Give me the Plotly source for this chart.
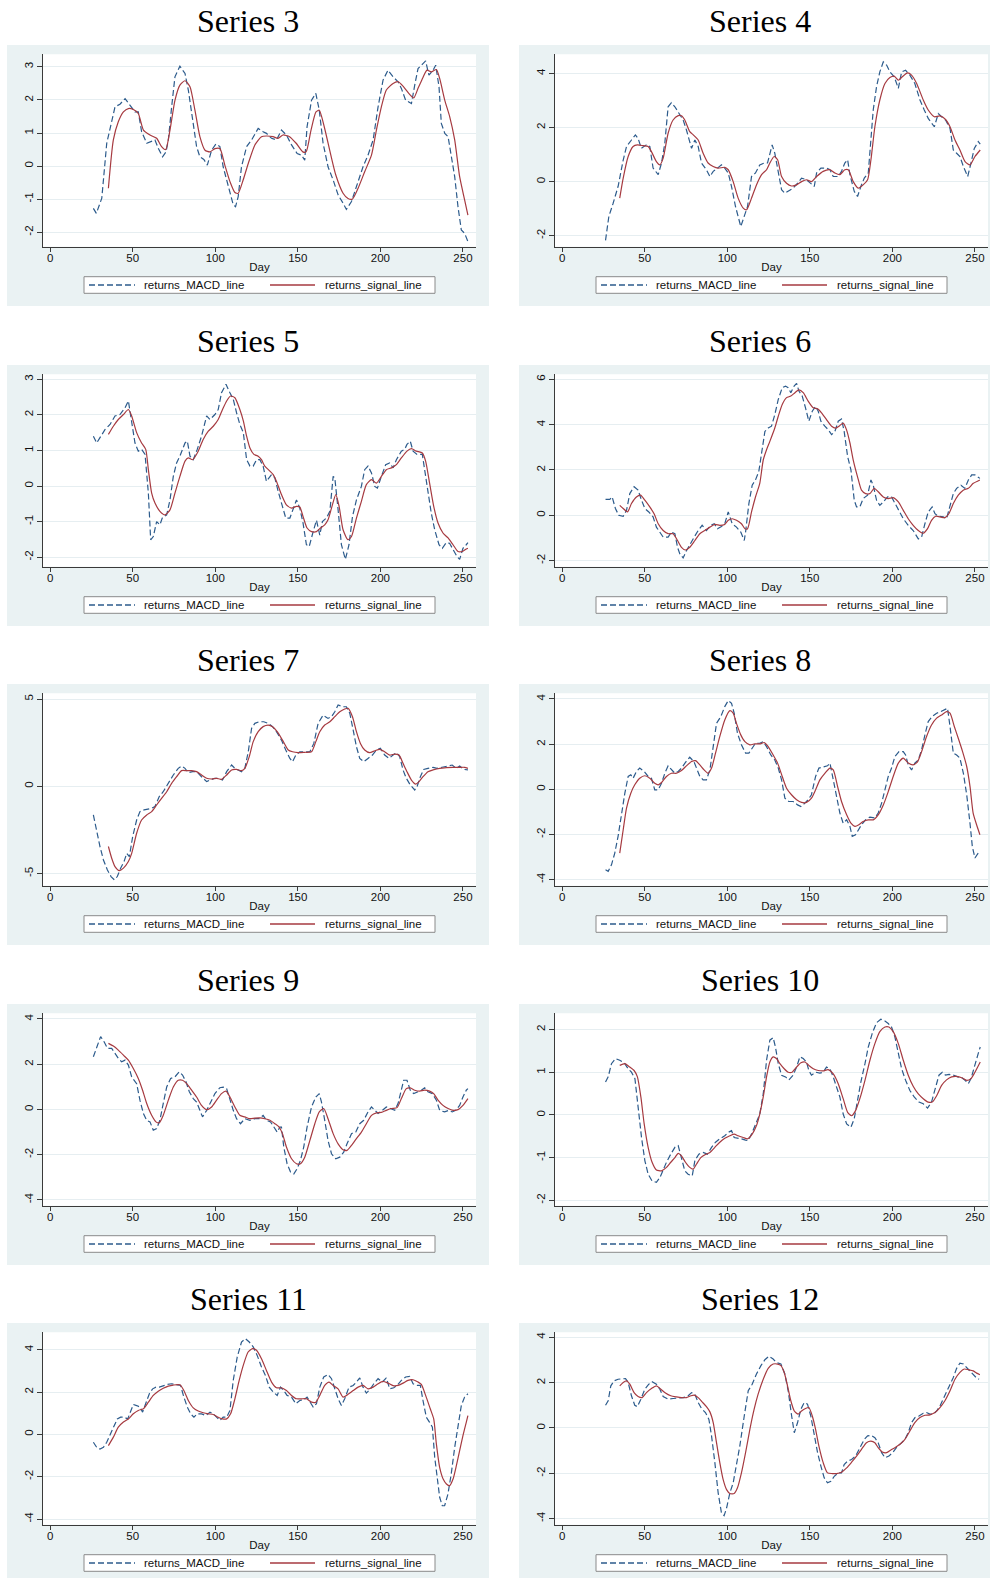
import plotly.graph_objects as go

# ---------------- data (day, value) ----------------
TITLES = ["Series 3", "Series 4", "Series 5", "Series 6", "Series 7",
          "Series 8", "Series 9", "Series 10", "Series 11", "Series 12"]
X_TICKS = [0, 50, 100, 150, 200, 250]
Y_TICKS = [[-2, -1, 0, 1, 2, 3], [-2, 0, 2, 4], [-2, -1, 0, 1, 2, 3], [-2, 0, 2, 4, 6],
           [-5, 0, 5], [-4, -2, 0, 2, 4], [-4, -2, 0, 2, 4], [-2, -1, 0, 1, 2],
           [-4, -2, 0, 2, 4], [-4, -2, 0, 2, 4]]
Y_RANGES = [[-2.44, 3.38], [-2.41, 4.71], [-2.27, 3.14], [-2.27, 6.22], [-5.70, 5.33],
            [-4.27, 4.25], [-4.26, 4.25], [-2.13, 2.38], [-4.27, 4.82], [-4.27, 4.22]]

S3_MACD = [(26.2,-1.28),(28,-1.43),(31.3,-0.97),(34.3,0.69),(39.3,1.79),(42.3,1.87),(45.4,2.04),(48.4,1.84),
 (51.4,1.64),(53.4,1.64),(55.4,1.04),(58.5,0.69),(61.5,0.74),(63.5,0.79),(65.5,0.54),(68.1,0.28),(70.2,0.43),
 (71.6,0.79),(73.6,1.79),(75.6,2.70),(78.6,3.02),(81.7,2.80),(83.7,2.30),(85.7,1.59),(88.7,0.59),(90.7,0.28),
 (93.1,0.20),(95.2,0.03),(97.8,0.48),(100.4,0.67),(102.8,0.59),(104.8,-0.02),(107.9,-0.62),(110.9,-1.17),
 (112.3,-1.23),(113.9,-0.92),(115.9,-0.02),(119,0.59),(122,0.79),(126,1.14),(129,1.04),(131,0.99),(134.1,0.84),
 (137.1,0.79),(140.1,1.09),(143.1,0.94),(146.2,0.64),(149.6,0.38),(152.2,0.33),(154.2,0.18),(155.6,1.19),
 (158.3,1.99),(160.9,2.20),(163,1.69),(165.3,0.69),(168.3,-0.02),(171.4,-0.42),(174.4,-0.87),(177.4,-1.12),
 (179.4,-1.31),(182.5,-1.07),(186.5,-0.47),(189.5,-0.02),(192.5,0.33),(195.6,0.79),(198.6,1.79),(201.6,2.60),
 (204.6,2.90),(207.7,2.70),(210.7,2.55),(212.7,2.35),(215.3,1.99),(218.8,1.89),(220.8,2.45),(222.8,2.95),
 (225.8,3.10),(227.4,3.18),(229.4,2.75),(231.9,2.90),(233.5,3.05),(235.5,2.40),(236.9,1.29),(239,0.99),
 (241,0.89),(243,0.28),(245,-0.32),(247,-1.23),(249,-1.93),(251,-2.03),(253,-2.28)]
S3_SIGNAL = [(35.3,-0.67),(38.3,0.79),(41.3,1.34),(44.4,1.64),(47.4,1.74),(50.4,1.71),(53.4,1.59),(56.5,1.09),
 (60.5,0.94),(64.5,0.84),(67.5,0.59),(70,0.50),(72.6,1.09),(75.6,1.99),(78.6,2.45),(81.7,2.58),(84.7,2.40),
 (87.7,1.69),(90.7,0.89),(93.8,0.48),(96.8,0.43),(99.8,0.53),(102.8,0.53),(105.8,0.03),(108.9,-0.47),
 (111.9,-0.80),(113.9,-0.82),(116.9,-0.42),(120,0.08),(124,0.64),(128,0.89),(131,0.91),(135,0.89),(138,0.84),
 (141,0.94),(145,0.89),(149,0.69),(153,0.43),(155,0.43),(158,1.09),(161,1.64),(163,1.69),(166,1.19),(170,0.33),
 (173,-0.27),(177.4,-0.82),(180.4,-0.98),(183,-1.00),(186.5,-0.67),(190.5,-0.17),(194.6,0.33),(197.6,1.09),
 (200.6,1.79),(203.6,2.30),(207.7,2.50),(210.7,2.55),(213.7,2.42),(217.7,2.17),(220.2,2.06),(222.8,2.35),
 (225.8,2.68),(228.2,2.90),(230.8,2.85),(233.9,2.92),(235.9,2.65),(239,1.99),(242,1.49),(245,0.79),
 (248,-0.32),(251,-1.02),(253,-1.48)]

S4_MACD = [(26.3,-2.17),(28.3,-1.29),(30.9,-0.80),(33.9,-0.18),(37,0.80),(39,1.30),(42,1.54),(44.4,1.73),
 (46,1.60),(48,1.23),(51,1.36),(53.1,1.30),(55.1,0.50),(58.2,0.26),(60.2,0.69),(62.2,1.42),(64.2,2.77),
 (66.2,2.92),(68.3,2.77),(71.3,2.46),(73.3,2.28),(75.3,1.91),(78.4,1.23),(80.4,1.54),(82.4,1.30),(84.4,0.69),
 (87.4,0.44),(89.5,0.19),(91.5,0.38),(94.1,0.50),(96.5,0.62),(98.5,0.50),(100.6,0.32),(102.6,-0.18),
 (105,-0.92),(108.2,-1.66),(110.3,-1.29),(112.3,-0.92),(114.7,0.19),(117.1,0.32),(119.7,0.62),(122.4,0.69),
 (124.4,0.69),(125.8,1.05),(127.2,1.36),(128.8,1.05),(130.9,0.32),(132.9,-0.30),(134.9,-0.43),(137.3,-0.33),
 (139.9,-0.24),(142.6,-0.06),(145,0.13),(148,0.07),(150.6,-0.06),(152.7,-0.18),(154.1,0.32),(156.7,0.50),
 (160.1,0.50),(162.2,0.44),(164.2,0.19),(167.2,0.19),(169.2,0.38),(171.2,0.69),(172.9,0.81),(174.3,0.26),
 (176.9,-0.36),(178.9,-0.55),(180.9,-0.18),(183,0.13),(185.4,0.32),(187,1.42),(188.4,2.65),(190.4,3.51),
 (192.4,4.06),(194.5,4.43),(196.5,4.31),(198.5,4.06),(201.1,3.88),(203.6,3.45),(205.6,4.06),(208,4.12),
 (210.6,3.94),(213.6,3.63),(216.7,3.02),(219.3,2.65),(221.7,2.34),(225.4,2.03),(227.8,2.52),(229.8,2.40),
 (232.2,2.28),(234.9,1.97),(236.9,1.17),(238.9,1.05),(240.9,0.93),(243,0.56),(245.6,0.19),(247.6,0.69),
 (249.6,1.23),(252,1.48),(253.2,1.39)]
S4_SIGNAL = [(34.9,-0.61),(37,0.13),(40,0.93),(43,1.30),(45.6,1.36),(49.1,1.33),(52.1,1.30),(54.1,1.11),
 (57.1,0.74),(59.2,0.62),(61.2,0.87),(64.2,1.79),(67.2,2.28),(70.3,2.44),(72.3,2.44),(74.3,2.28),(77.3,1.85),
 (79.4,1.73),(82.4,1.54),(85.4,1.05),(88.4,0.69),(91.5,0.56),(94.5,0.50),(98.5,0.53),(100.6,0.44),(103.6,0.00),
 (106.6,-0.61),(109.7,-0.98),(111.7,-1.04),(114.7,-0.61),(117.7,-0.12),(120.8,0.26),(123.8,0.44),(125.8,0.69),
 (128.4,0.93),(130.5,0.81),(132.9,0.19),(135.9,-0.06),(138.9,-0.16),(142,-0.12),(145,0.00),(148,0.07),
 (151,0.00),(154.1,0.19),(158.1,0.38),(162.2,0.44),(165.2,0.32),(168.2,0.26),(171.2,0.44),(173.3,0.44),
 (176.3,0.00),(179.3,-0.24),(182.3,-0.12),(185,0.07),(187,0.80),(189.4,2.03),(192.4,3.02),(195.5,3.63),
 (198.5,3.85),(201.1,3.90),(203.6,3.75),(206,3.88),(209.2,4.02),(211.6,3.94),(214.7,3.63),(218.7,3.02),
 (221.7,2.65),(225.4,2.40),(228.8,2.43),(232.2,2.30),(234.9,2.03),(237.9,1.54),(240.9,1.17),(244,0.74),
 (247,0.62),(250,0.93),(253.2,1.17)]

S5_MACD = [(26.2,1.40),(28.2,1.21),(30.2,1.36),(33.3,1.59),(36.3,1.73),(39.3,1.97),(42.3,2.01),(45.4,2.20),
 (47.4,2.39),(49.4,1.78),(51.4,1.21),(53.4,0.98),(55.4,1.03),(57.5,0.89),(59.5,-0.20),(60.9,-1.51),(62.5,-1.42),
 (64.5,-1.00),(66.5,-1.09),(67.9,-0.90),(70.6,-0.81),(72.6,-0.39),(74.6,0.27),(76.6,0.65),(78.6,0.84),
 (81.7,1.21),(83.1,1.26),(84.7,0.84),(86.7,0.74),(89.1,1.03),(91.7,1.40),(94.8,1.97),(96.8,1.87),(99.8,2.01),
 (101.8,2.15),(103.8,2.62),(106.5,2.86),(108.9,2.62),(110.9,2.44),(112.9,2.06),(114.9,1.73),(117,1.50),
 (119,0.74),(121,0.56),(123,0.56),(125,0.74),(127,0.74),(129,0.56),(131,0.13),(134.1,0.32),(136.1,0.23),
 (138.1,-0.15),(140.1,-0.48),(142.7,-0.90),(145.2,-0.90),(147.2,-0.67),(149.2,-0.39),(151.2,-0.62),
 (153.2,-1.05),(155.2,-1.65),(156.9,-1.70),(159.3,-1.28),(161.3,-0.96),(163.3,-1.38),(164.9,-1.00),
 (167.3,-0.90),(169.4,-0.71),(171.4,0.27),(172.4,0.23),(174.4,-0.67),(176.4,-1.65),(178.8,-2.06),
 (181,-1.65),(183.1,-0.86),(185.5,-0.39),(188.5,-0.01),(190.5,0.46),(192.5,0.56),(194.6,0.37),(196.6,-0.01),
 (198.2,-0.06),(200.6,0.27),(203.2,0.60),(205.6,0.65),(207.7,0.51),(209.7,0.74),(212.7,0.98),(214.7,1.03),
 (216.1,1.17),(218.1,1.26),(219.8,0.98),(222.2,0.89),(225.4,0.89),(226.8,0.46),(228.8,-0.20),(230.8,-0.76),
 (232.9,-1.23),(235.5,-1.65),(237.5,-1.75),(239.9,-1.59),(241.9,-1.61),(244,-1.79),(246.4,-1.98),
 (248,-2.06),(250,-1.75),(252,-1.65),(253,-1.59)]
S5_SIGNAL = [(35.3,1.45),(38.3,1.68),(41.3,1.87),(44.4,2.01),(47.4,2.15),(49.4,1.97),(52.4,1.50),(55.4,1.21),
 (57.9,1.03),(59.5,0.46),(61.5,-0.20),(63.5,-0.48),(66.5,-0.71),(69.6,-0.81),(72.6,-0.67),(75.6,-0.20),
 (78.6,0.27),(81.7,0.70),(83.7,0.79),(86.3,0.74),(89.7,0.98),(92.7,1.31),(95.8,1.54),(98.8,1.68),(101.8,1.87),
 (104.4,2.15),(106.9,2.39),(109.3,2.53),(111.9,2.48),(114.9,2.15),(117,1.83),(119,1.40),(121,1.07),(123.4,0.89),
 (126,0.84),(128,0.74),(130,0.56),(133.1,0.42),(135.1,0.32),(137.1,0.13),(140.1,-0.24),(143.1,-0.53),
 (146.2,-0.62),(149.2,-0.57),(151.2,-0.59),(153.2,-0.86),(155.6,-1.18),(158.3,-1.28),(161.3,-1.28),
 (163.7,-1.18),(166.3,-1.09),(168.3,-0.95),(170.4,-0.62),(173,-0.24),(175,-0.57),(177.4,-1.23),(180.4,-1.51),
 (182.5,-1.42),(185.5,-0.90),(188.5,-0.43),(191.5,0.04),(194.6,0.18),(197.6,0.08),(200.6,0.27),(203.6,0.46),
 (206.7,0.51),(209.7,0.60),(212.7,0.79),(216.1,0.98),(218.8,1.05),(221.8,0.98),(225.4,0.93),(227.4,0.70),
 (229.8,0.08),(232.3,-0.57),(234.9,-1.04),(237.9,-1.32),(241,-1.46),(244,-1.65),(247,-1.84),(249.6,-1.84),
 (252,-1.77),(253,-1.75)]

S6_MACD = [(26.3,0.70),(28.9,0.70),(30.3,0.81),(32.3,0.30),(34.3,0.00),(37,-0.04),(39,0.22),(41,0.96),
 (43.6,1.26),(46,1.11),(48.1,0.67),(50.1,0.30),(52.5,0.15),(55.1,-0.07),(57.1,-0.52),(59.2,-0.74),(61.2,-0.96),
 (64.2,-0.96),(66.2,-0.74),(68.3,-0.81),(69.9,-1.41),(71.3,-1.70),(73.3,-1.88),(75.3,-1.56),(77.3,-1.33),
 (80,-0.96),(82.4,-0.67),(84.8,-0.44),(87.4,-0.67),(90.1,-0.44),(92.1,-0.37),(94.1,-0.59),(96.5,-0.49),
 (98.5,-0.37),(100.6,0.15),(103,-0.37),(105.6,-0.52),(108.2,-0.74),(110.3,-1.11),(111.1,-0.74),(113.1,0.52),
 (115.1,1.33),(117.1,1.56),(119.1,1.93),(120.8,2.74),(122.8,3.70),(124.8,3.85),(126.8,3.93),(128.8,4.44),
 (130.9,5.11),(133.3,5.63),(135.3,5.70),(136.9,5.63),(138.5,5.41),(140.5,5.70),(142,5.82),(143.4,5.48),
 (145.4,5.26),(147.4,4.74),(149.4,4.15),(151.5,4.59),(153.5,4.81),(155.1,4.59),(156.7,4.15),(159.1,3.93),
 (161.1,3.78),(163.2,3.56),(165.2,3.70),(167.2,4.15),(169.2,4.25),(170.8,3.70),(172.9,2.59),(174.9,2.00),
 (176.9,0.67),(178.3,0.37),(180.3,0.37),(182.3,0.74),(185,0.89),(187,1.56),(188.4,1.33),(190.4,0.67),
 (192.4,0.44),(194.5,0.59),(197.1,0.81),(199.5,0.81),(201.5,0.52),(204,0.22),(206.6,-0.15),(209.6,-0.44),
 (212.6,-0.67),(215.7,-1.04),(217.7,-0.96),(219.7,-0.37),(221.7,0.15),(224.1,0.37),(225.8,0.07),
 (227.8,-0.04),(230.8,-0.07),(232.8,-0.15),(234.9,0.37),(236.9,0.96),(238.9,1.19),(241.5,1.33),(243.9,1.19),
 (246,1.56),(248,1.78),(250,1.78),(253,1.63)]
S6_SIGNAL = [(34.9,0.44),(37,0.30),(39.6,0.15),(42,0.52),(45,0.81),(47.5,0.89),(50.1,0.67),(53.1,0.37),
 (55.7,0.07),(58.2,-0.37),(61.2,-0.67),(64.2,-0.81),(67.2,-0.81),(69.9,-1.11),(72.3,-1.41),(74.7,-1.53),
 (77.3,-1.41),(80.4,-1.11),(83.4,-0.81),(86.4,-0.67),(89.5,-0.52),(92.5,-0.40),(95.5,-0.44),(98.5,-0.40),
 (100.6,-0.22),(103,-0.15),(105.6,-0.22),(108.6,-0.37),(110.7,-0.59),(112.3,-0.59),(114.7,0.15),(117.1,0.81),
 (119.7,1.41),(121.8,2.44),(123.8,2.89),(125.8,3.26),(128.8,3.85),(130.9,4.37),(133.3,4.89),(135.9,5.19),
 (138.5,5.26),(141,5.41),(143.4,5.53),(146,5.41),(149,5.04),(152.1,4.74),(154.7,4.70),(157.1,4.52),
 (160.1,4.22),(163.2,3.93),(165.6,3.85),(168.2,3.96),(170.2,4.07),(172.2,3.78),(174.3,3.19),(176.3,2.44),
 (178.9,1.70),(181.3,1.11),(183.8,0.96),(186.4,0.96),(189,1.19),(191.4,1.04),(194.5,0.81),(197.5,0.74),
 (200.5,0.78),(203.6,0.59),(206.6,0.22),(209.6,-0.15),(212.6,-0.44),(215.7,-0.67),(218.7,-0.79),(221.3,-0.59),
 (223.7,-0.22),(226.2,-0.04),(228.8,-0.07),(231.8,-0.10),(234.2,0.07),(236.9,0.52),(239.9,0.89),(242.9,1.11),
 (246,1.19),(249,1.41),(253,1.56)]

S7_MACD = [(26.2,-1.64),(28.2,-2.60),(30.2,-3.45),(32.3,-4.22),(34.7,-4.79),(36.9,-5.17),(38.9,-5.36),
 (40.7,-5.17),(42.7,-4.69),(44.8,-4.31),(46.4,-3.84),(48,-4.03),(50,-2.88),(52.4,-1.93),(54.4,-1.45),
 (56.9,-1.35),(59.5,-1.32),(61.5,-1.26),(63.5,-1.16),(66.1,-0.59),(68.5,-0.31),(71.6,0.17),(74.6,0.65),
 (77.6,1.03),(79.6,1.16),(81.7,1.03),(83.7,0.78),(86.3,0.84),(88.7,0.84),(91.7,0.55),(94.8,0.27),(96.8,0.36),
 (99.8,0.46),(101.8,0.46),(104.4,0.36),(106.9,0.84),(109.9,1.22),(111.9,1.03),(113.9,0.94),(115.9,0.84),
 (117.9,1.03),(120,1.98),(122,3.32),(124,3.61),(126.6,3.70),(129.4,3.70),(132.1,3.61),(134.7,3.42),
 (137.1,3.13),(140.1,2.65),(142.7,2.08),(145.2,1.60),(146.8,1.41),(148.8,1.79),(151.2,1.98),(154.2,1.98),
 (157.3,1.98),(159.7,2.46),(162.3,3.61),(165.3,4.08),(168.3,3.89),(170.4,3.99),(172.4,4.27),(174.4,4.66),
 (177.4,4.56),(179.4,4.56),(181.5,4.18),(183.5,3.23),(185.5,2.27),(187.5,1.60),(189.9,1.41),(192.5,1.60),
 (195.2,1.79),(197.6,2.08),(200,2.18),(202.6,1.79),(205.2,1.60),(207.7,1.79),(209.7,1.93),(211.7,1.70),
 (213.7,0.94),(215.7,0.46),(218.1,0.08),(220.8,-0.21),(222.2,-0.02),(224.2,0.55),(226.2,0.97),(228.8,1.03),
 (231.9,1.09),(234.3,1.03),(237.5,1.09),(240.9,1.16),(243.5,1.22),(246,1.03),(248,1.16),(250.4,0.97),
 (253,0.94)]
S7_SIGNAL = [(35.3,-3.45),(37.3,-4.12),(39.3,-4.60),(41.9,-4.83),(44.4,-4.69),(47.4,-4.31),(49.4,-3.84),
 (52.4,-2.69),(55.4,-1.93),(58.5,-1.64),(61.5,-1.45),(64.5,-1.07),(67.5,-0.69),(70.6,-0.31),(73.6,0.17),
 (76.6,0.55),(79.6,0.90),(82.7,0.90),(85.7,0.90),(88.7,0.84),(91.7,0.65),(94.8,0.46),(97.8,0.42),(100.8,0.46),
 (103.8,0.40),(106.9,0.65),(109.9,0.94),(112.9,0.97),(115.9,0.90),(117.9,1.03),(120.6,1.70),(123,2.56),
 (126,3.13),(129,3.42),(132.1,3.51),(134.7,3.42),(137.5,3.13),(140.7,2.65),(144.2,2.08),(146.8,1.98),
 (150.2,1.93),(154.2,1.95),(158.3,1.98),(160.9,2.56),(163.3,3.13),(166.3,3.51),(169.4,3.70),(172.4,3.99),
 (175.4,4.27),(178.4,4.43),(180.4,4.47),(183.1,3.99),(185.5,3.13),(187.9,2.46),(190.5,2.08),(193.5,1.93),
 (196.6,2.04),(199.6,2.12),(202.6,1.98),(205.6,1.79),(208.7,1.85),(211.3,1.79),(213.7,1.32),(216.1,0.84),
 (218.8,0.36),(221.4,0.13),(223.4,0.27),(225.8,0.55),(228.8,0.84),(231.9,0.94),(235.9,1.03),(240,1.07),
 (244,1.09),(248,1.09),(251,1.09),(253,1.03)]

S8_MACD = [(26.3,-3.56),(27.9,-3.63),(29.9,-3.34),(31.9,-2.82),(33.9,-2.08),(35.9,-1.05),(38,-0.17),
 (40,0.57),(41.6,0.64),(43,0.49),(45,0.79),(47,0.94),(49.7,0.79),(52.1,0.57),(54.1,0.49),(56.1,-0.02),
 (58.2,-0.02),(60.2,0.27),(62.2,0.71),(64.2,1.04),(66.2,0.86),(68.3,0.71),(70.3,0.79),(72.3,0.94),(74.7,1.19),
 (77.3,1.42),(79.8,1.23),(81.4,0.94),(83.4,0.57),(85.4,0.42),(87.4,0.42),(89.5,0.86),(91.5,1.89),(93.5,2.92),
 (96.1,3.22),(98.5,3.66),(100.6,3.93),(102.6,3.81),(104.2,3.37),(106.2,2.48),(108.6,1.97),(111.1,1.60),
 (113.1,1.60),(115.1,1.82),(117.1,2.04),(119.7,2.04),(121.8,2.11),(123.8,1.89),(126.4,1.52),(128.8,1.30),
 (130.9,0.94),(132.9,0.42),(134.9,-0.39),(137.3,-0.54),(139.9,-0.54),(142.6,-0.69),(144.6,-0.76),(147,-0.61),
 (149,-0.46),(151,-0.24),(153.5,0.57),(155.5,0.94),(158.1,0.98),(160.7,1.04),(162.2,1.16),(163.6,0.64),
 (165.6,-0.17),(168.2,-1.05),(170.2,-1.50),(172.3,-1.35),(174.3,-1.64),(175.7,-2.08),(177.7,-2.01),
 (179.3,-1.79),(181.3,-1.57),(183.8,-1.35),(186.4,-1.23),(189.4,-1.27),(191.4,-1.05),(193.5,-0.61),
 (195.5,-0.02),(197.5,0.57),(199.5,0.94),(201.5,1.45),(204,1.67),(206.6,1.67),(208,1.52),(209.6,1.08),
 (211.6,0.86),(213.6,1.16),(215.7,1.30),(217.7,1.75),(219.7,2.41),(221.7,3.00),(224.1,3.22),(226.8,3.37),
 (229.4,3.44),(231.4,3.51),(233.4,3.59),(234.9,2.78),(236.9,1.60),(238.9,1.52),(240.9,1.38),(243,0.71),
 (245,-0.24),(247,-1.50),(248.4,-2.53),(250,-3.04),(252,-2.82),(253,-2.85)]
S8_SIGNAL = [(34.9,-2.82),(37,-1.79),(39,-0.83),(41.6,-0.17),(44,0.20),(47,0.49),(50.1,0.60),(53.1,0.49),
 (56.1,0.27),(58.2,0.20),(60.2,0.30),(63.2,0.57),(66.2,0.71),(69.3,0.71),(72.3,0.83),(75.3,1.04),(78.4,1.23),
 (80.8,1.27),(83.4,1.08),(86,0.86),(88.4,0.71),(90.5,0.94),(92.9,1.60),(95.5,2.34),(98.5,3.07),(101.6,3.48),
 (103.6,3.37),(105.6,2.92),(108.2,2.41),(110.7,2.11),(113.7,1.97),(116.7,2.01),(119.7,2.01),(122.4,2.07),
 (124.8,1.89),(127.8,1.52),(130.5,1.16),(133.3,0.57),(135.9,0.05),(138.9,-0.24),(142,-0.46),(145,-0.58),
 (148,-0.58),(151,-0.39),(153.5,-0.02),(156.1,0.42),(159.1,0.71),(162.2,0.94),(164.2,0.86),(166.8,0.13),
 (169.2,-0.54),(172.3,-1.13),(174.9,-1.50),(177.3,-1.64),(179.7,-1.57),(182.3,-1.42),(185.4,-1.35),
 (188.4,-1.35),(191.4,-1.13),(194.5,-0.69),(197.5,-0.10),(200.5,0.57),(203.6,1.16),(206.6,1.38),(209.6,1.16),
 (212.6,1.08),(215.3,1.23),(217.7,1.67),(220.7,2.34),(223.7,2.85),(226.8,3.15),(229.8,3.29),(232.8,3.44),
 (234.9,3.37),(237.5,2.78),(239.9,2.26),(242.5,1.67),(245,1.01),(247,0.13),(248.9,-1.05),(251,-1.57),
 (253,-2.01)]

S9_MACD = [(26.2,2.33),(28.2,2.77),(30.6,3.22),(32.7,2.99),(34.7,2.70),(37.3,2.70),(39.3,2.48),(41.3,2.26),
 (43.3,2.11),(45.4,2.18),(47.4,1.96),(49.4,1.44),(52.4,1.14),(54.4,0.41),(56.5,-0.18),(58.5,-0.48),
 (60.5,-0.55),(62.5,-0.92),(64.5,-0.85),(66.5,-0.48),(68.5,0.26),(70.6,0.99),(73,1.37),(75.6,1.44),(78.2,1.66),
 (80.2,1.52),(82.3,1.22),(84.3,0.78),(86.7,0.48),(88.7,0.33),(90.7,-0.04),(92.3,-0.33),(94.8,-0.04),
 (97.2,0.33),(99.8,0.70),(102.8,0.96),(104.8,0.99),(106.9,0.92),(108.9,0.41),(110.9,-0.04),(112.9,-0.41),
 (115.3,-0.63),(117.9,-0.41),(121,-0.48),(124,-0.41),(126.6,-0.41),(129,-0.26),(131,-0.48),(133.5,-0.55),
 (135.5,-0.78),(137.5,-1.00),(139.1,-0.78),(140.1,-0.78),(141.5,-1.66),(143.5,-2.40),(145.6,-2.77),
 (147.6,-2.85),(149.6,-2.62),(151.6,-2.25),(153.6,-1.66),(155.6,-0.78),(158.3,0.11),(160.9,0.55),(163,0.70),
 (164.3,0.33),(166.3,-0.48),(168.3,-1.37),(170.4,-1.96),(173,-2.18),(175.4,-2.11),(177.8,-1.89),(179.8,-1.52),
 (182.5,-1.07),(185.1,-1.00),(187.5,-0.63),(189.9,-0.48),(192.5,-0.11),(194.6,0.11),(196.6,-0.04),
 (198.6,-0.18),(201.2,-0.04),(203.6,0.11),(206,0.04),(208.7,-0.04),(210.7,0.26),(212.7,0.85),(214.1,1.29),
 (216.1,1.29),(218.1,0.85),(220.2,0.70),(222.8,0.78),(224.8,0.85),(226.8,0.96),(228.8,0.78),(231.5,0.70),
 (233.9,0.41),(235.9,-0.04),(238.9,-0.11),(241.5,-0.04),(243.5,-0.11),(245.6,-0.04),(248,0.18),(250,0.55),
 (252,0.85),(253,0.92)]
S9_SIGNAL = [(35.3,2.92),(38.3,2.80),(41.3,2.62),(44.4,2.40),(47.4,2.18),(50.4,1.81),(53.4,1.37),(56,0.85),
 (58.5,0.26),(61.5,-0.26),(64.1,-0.55),(66.1,-0.59),(68.5,-0.26),(71.6,0.41),(74.6,0.99),(77.6,1.29),
 (80.2,1.29),(82.7,1.14),(85.7,0.85),(88.7,0.55),(91.7,0.18),(94.8,-0.01),(97.8,0.11),(100.8,0.41),(103.8,0.70),
 (106.5,0.81),(108.9,0.55),(111.9,0.11),(114.9,-0.26),(117.9,-0.33),(121,-0.41),(124,-0.38),(127,-0.37),
 (130,-0.41),(133.1,-0.48),(136.1,-0.63),(138.7,-0.78),(140.7,-1.07),(143.1,-1.66),(146.2,-2.18),(149.2,-2.40),
 (151.6,-2.40),(154.2,-2.11),(157.3,-1.37),(160.3,-0.63),(163,-0.11),(165.7,0.04),(168.3,-0.41),(171.4,-1.07),
 (174.4,-1.52),(177.4,-1.78),(179.8,-1.81),(182.5,-1.59),(185.5,-1.29),(188.5,-1.00),(191.5,-0.63),
 (194.6,-0.26),(197.6,-0.15),(200.6,-0.13),(203.6,-0.04),(206.7,0.04),(210.1,0.08),(212.7,0.48),(215.7,0.92),
 (218.1,0.95),(220.8,0.85),(223.8,0.81),(226.8,0.85),(229.8,0.81),(232.3,0.70),(234.9,0.41),(237.9,0.18),
 (241,0.04),(244,-0.04),(247,-0.01),(250,0.18),(253,0.48)]

S10_MACD = [(26.3,0.77),(27.9,0.89),(29.9,1.20),(32.3,1.32),(34.9,1.28),(37.6,1.22),(40,1.08),(42,1.00),
 (44.1,0.85),(46,0.18),(48.1,-0.53),(50.1,-1.07),(52.1,-1.39),(54.5,-1.55),(57.1,-1.58),(59.2,-1.47),
 (61.2,-1.27),(63.2,-1.11),(65.8,-0.92),(68.3,-0.76),(70.3,-0.72),(72.3,-1.00),(74.3,-1.31),(76.3,-1.39),
 (78.8,-1.43),(80.4,-1.07),(82.8,-0.92),(85.4,-0.88),(88,-0.92),(90.5,-0.76),(92.9,-0.64),(95.5,-0.56),
 (98.5,-0.49),(100.6,-0.41),(102.6,-0.37),(104.2,-0.53),(106.2,-0.54),(108.6,-0.56),(111.1,-0.59),
 (112.7,-0.60),(114.7,-0.45),(117.1,-0.21),(119.7,0.02),(121.8,0.49),(123.8,1.28),(125.8,1.75),(127.8,1.81),
 (129.2,1.59),(130.9,1.20),(132.9,0.93),(135.3,0.89),(137.3,0.82),(139.9,0.93),(142,1.12),(144,1.36),
 (146,1.32),(148,1.24),(149.4,1.04),(151,0.93),(153.5,1.00),(156.1,0.98),(158.1,1.00),(160.1,1.12),
 (162.2,1.08),(164.2,0.89),(166.2,0.65),(168.2,0.42),(170.2,0.02),(172.3,-0.21),(174.9,-0.29),(176.9,-0.09),
 (178.9,0.34),(180.9,0.77),(183.4,1.20),(185.4,1.59),(187.8,1.91),(190.4,2.16),(193,2.24),(195.5,2.20),
 (197.5,2.14),(199.5,2.06),(201.5,1.83),(203.6,1.47),(205.6,1.08),(208,0.81),(210.6,0.57),(213.2,0.42),
 (216.1,0.30),(218.7,0.26),(221.3,0.16),(223.7,0.30),(225.8,0.57),(228.2,0.93),(230.2,1.00),(232.2,0.93),
 (234.3,0.95),(236.9,0.93),(239.5,0.89),(242,0.87),(244,0.81),(246,0.73),(247.6,0.85),(250,1.20),(252,1.44),
 (253.2,1.59)]
S10_SIGNAL = [(34.9,1.16),(38,1.20),(41,1.12),(43.6,1.04),(45.6,0.89),(47.7,0.42),(49.7,-0.21),(52.1,-0.76),
 (54.5,-1.11),(57.1,-1.29),(60.2,-1.31),(63.2,-1.23),(65.8,-1.11),(68.3,-1.00),(70.3,-0.90),(72.3,-0.96),
 (74.7,-1.11),(77.3,-1.23),(79.4,-1.27),(81.4,-1.15),(84,-1.00),(86.8,-0.93),(89.5,-0.88),(92.5,-0.76),
 (95.5,-0.64),(98.5,-0.55),(101.6,-0.49),(104.2,-0.45),(106.6,-0.49),(109.7,-0.53),(112.3,-0.56),(115.1,-0.45),
 (117.7,-0.25),(119.7,0.02),(121.8,0.42),(123.8,0.89),(125.8,1.24),(127.8,1.36),(129.8,1.32),(131.9,1.20),
 (134.5,1.08),(136.9,1.00),(139.3,1.00),(142,1.12),(144.6,1.22),(147,1.24),(149.4,1.16),(152.1,1.08),
 (155.1,1.04),(158.1,1.03),(161.1,1.06),(164.2,0.96),(167.2,0.73),(170.2,0.38),(172.9,0.06),(175.3,-0.02),
 (177.7,0.10),(180.3,0.38),(183.4,0.81),(186.4,1.28),(189.4,1.67),(192.4,1.95),(195.5,2.06),(197.9,2.06),
 (200.5,1.95),(203.6,1.67),(206.6,1.28),(209.6,0.93),(212.6,0.67),(215.7,0.49),(218.7,0.38),(221.7,0.30),
 (224.1,0.30),(226.8,0.45),(229.8,0.69),(232.8,0.82),(235.9,0.89),(238.9,0.90),(242,0.87),(245,0.81),
 (247.6,0.85),(250,1.00),(253.2,1.24)]

S11_MACD = [(26.2,-0.37),(28.2,-0.61),(30.2,-0.69),(32.3,-0.61),(34.3,-0.37),(36.7,0.02),(38.7,0.42),
 (40.7,0.73),(42.7,0.81),(44.8,0.81),(47,0.73),(48.8,1.05),(50.4,1.41),(52.4,1.36),(54.4,1.29),(56,1.05),
 (57.9,1.45),(60.1,1.92),(62.1,2.15),(64.1,2.23),(66.1,2.23),(68.5,2.31),(71,2.36),(73.6,2.39),(76.6,2.36),
 (79,2.31),(81,1.76),(83.1,1.29),(85.1,0.97),(87.1,0.81),(89.1,0.97),(91.7,0.97),(94.4,0.89),(96.8,1.05),
 (98.8,0.97),(100.8,0.81),(102.8,0.66),(104.8,0.81),(106.9,0.81),(108.9,1.13),(110.9,2.55),(113.3,3.65),
 (115.9,4.36),(118.3,4.52),(120.6,4.36),(123,4.13),(125.4,3.73),(128,3.18),(130.4,2.78),(132.7,2.23),
 (135.1,2.00),(137.5,1.84),(139.5,2.23),(141.5,2.07),(143.5,1.84),(146.2,1.76),(148.8,1.45),(151.2,1.60),
 (153.6,1.63),(155.6,1.76),(157.7,1.52),(159.3,1.29),(161.3,1.45),(163.3,2.23),(165.7,2.71),(168.3,2.83),
 (170.4,2.63),(172.4,2.15),(174.4,1.68),(176.4,1.36),(178.4,1.68),(181,2.23),(183.5,2.31),(185.5,2.47),
 (187.5,2.67),(189.5,2.23),(191.5,1.95),(194,2.15),(196,2.39),(198.6,2.63),(201.2,2.47),(203.6,2.67),
 (205.6,2.15),(208.1,2.20),(210.1,2.31),(212.7,2.55),(215.3,2.71),(217.7,2.74),(219.8,2.39),(222.2,2.31),
 (224.2,2.31),(225.8,1.60),(227.8,0.81),(229.8,0.57),(231.5,0.34),(232.9,-1.08),(234.3,-2.03),(235.9,-2.97),
 (237.5,-3.37),(238.9,-3.37),(240.9,-2.82),(242.9,-1.87),(245,-0.61),(247,0.50),(249,1.36),(251,1.76),
 (253,1.92)]
S11_SIGNAL = [(35.3,-0.53),(38.3,-0.13),(41.3,0.34),(44.4,0.58),(47.4,0.73),(50.4,0.97),(53.4,1.13),
 (56.5,1.21),(59.5,1.52),(62.5,1.84),(65.5,2.04),(68.5,2.18),(71.6,2.28),(74.6,2.33),(78.6,2.34),(81,2.07),
 (83.7,1.60),(86.7,1.25),(89.7,1.10),(92.7,1.02),(95.8,0.97),(98.8,0.94),(101.8,0.81),(104.4,0.73),(106.9,0.73),
 (109.3,0.97),(111.9,1.68),(114.5,2.55),(117.3,3.34),(119.9,3.89),(122.6,4.05),(125,3.97),(128,3.57),(131,3.02),
 (134.1,2.47),(137.1,2.20),(140.1,2.20),(143.1,2.07),(146.2,1.84),(149.2,1.68),(152.2,1.68),(155.2,1.68),
 (158.3,1.52),(160.9,1.52),(163.3,1.84),(166.3,2.31),(168.9,2.47),(171.4,2.31),(174.4,2.15),(177.4,1.76),
 (180.4,1.89),(183.5,2.07),(186.5,2.23),(189.5,2.31),(192.5,2.15),(195.6,2.23),(198.6,2.39),(201.6,2.50),
 (204.6,2.42),(207.7,2.30),(210.7,2.31),(213.7,2.42),(216.7,2.55),(219.8,2.58),(222.8,2.47),(224.8,2.36),
 (227.4,1.84),(230.2,1.21),(232.3,0.73),(233.9,-0.45),(235.9,-1.56),(238,-2.11),(240,-2.34),(242,-2.42),
 (244,-2.11),(246,-1.48),(248,-0.77),(250,-0.06),(252,0.57),(253,0.89)]

S12_MACD = [(26.3,1.00),(27.9,1.20),(29.5,1.86),(31.5,2.08),(33.9,2.15),(36.3,2.18),(38.4,2.18),(40,2.01),
 (42,1.42),(44,1.00),(45.6,0.94),(47.7,1.27),(50.1,1.71),(52.5,1.93),(54.5,2.04),(57.1,1.93),(59.2,1.71),
 (61.2,1.39),(64.2,1.27),(67.2,1.30),(70.3,1.31),(73.3,1.34),(75.9,1.39),(78.4,1.56),(80.4,1.49),(82.4,1.12),
 (84.4,0.86),(86.8,0.68),(88.9,0.38),(90.5,-0.35),(92.5,-1.53),(94.5,-2.86),(96.5,-3.75),(98.1,-3.87),
 (99.6,-3.53),(101.6,-2.86),(103.6,-2.42),(105.6,-1.68),(107.6,-0.80),(110.3,0.53),(112.7,1.64),(115.1,1.93),
 (117.7,2.38),(120.4,2.75),(122.8,3.01),(125.2,3.16),(127.8,3.04),(129.8,2.89),(132.5,2.82),(134.9,2.38),
 (136.9,1.64),(139,0.53),(140.6,-0.21),(142.6,0.24),(144.6,0.83),(146.6,1.12),(148.6,1.05),(150.6,0.53),
 (152.7,-0.35),(154.7,-1.09),(156.7,-1.68),(158.7,-2.20),(160.7,-2.42),(162.8,-2.35),(164.8,-2.13),
 (167.2,-1.98),(169.2,-1.98),(170.8,-1.61),(172.9,-1.46),(175.3,-1.39),(177.7,-1.24),(180.3,-0.87),
 (183,-0.50),(185,-0.35),(187,-0.32),(189.4,-0.43),(191.4,-0.65),(193.5,-1.09),(195.5,-1.31),(197.9,-1.24),
 (200.5,-1.06),(203.1,-0.80),(205.2,-0.68),(207.6,-0.50),(209.6,-0.21),(211.6,0.24),(213.7,0.46),(216.1,0.53),
 (218.7,0.65),(220.7,0.68),(222.7,0.61),(224.8,0.61),(226.8,0.75),(228.8,0.97),(230.8,1.27),(232.8,1.56),
 (234.9,1.86),(236.9,2.23),(238.9,2.63),(240.9,2.86),(243,2.82),(245,2.67),(247,2.52),(249,2.38),(251,2.20),
 (252.5,2.15)]
S12_SIGNAL = [(34.9,1.86),(37,2.01),(39,2.08),(41,1.93),(43.6,1.56),(46,1.39),(48.5,1.34),(51.1,1.56),
 (54.1,1.74),(57.1,1.86),(59.8,1.71),(62.6,1.54),(65.8,1.42),(69.3,1.37),(72.3,1.34),(75.3,1.34),(78,1.42),
 (80,1.45),(82.4,1.34),(84.8,1.15),(87.4,0.94),(89.5,0.71),(91.5,0.24),(93.5,-0.65),(95.5,-1.53),(97.5,-2.27),
 (99.6,-2.72),(101.6,-2.89),(104.2,-2.89),(106.2,-2.64),(108.6,-1.98),(111.1,-1.09),(113.7,-0.06),(116.3,0.83),
 (118.7,1.49),(121.8,2.15),(124.8,2.63),(127.8,2.82),(130.5,2.82),(132.5,2.75),(134.5,2.45),(136.5,1.86),
 (138.5,1.20),(140.6,0.75),(143,0.61),(145,0.75),(147.4,0.86),(149.4,0.90),(151.5,0.53),(153.5,-0.06),
 (155.5,-0.80),(158.1,-1.53),(160.7,-1.98),(163.6,-2.01),(166.2,-2.01),(169.2,-1.95),(172.3,-1.76),
 (175.3,-1.51),(178.3,-1.24),(181.3,-0.94),(184.3,-0.65),(187,-0.58),(189.4,-0.65),(191.4,-0.87),(193.9,-1.06),
 (196.5,-1.09),(199.1,-0.97),(201.5,-0.87),(204.6,-0.72),(207.6,-0.50),(210.6,-0.13),(213.6,0.24),(216.7,0.46),
 (219.7,0.56),(222.7,0.58),(225.8,0.68),(228.8,0.90),(231.8,1.20),(234.9,1.64),(237.9,2.15),(240.9,2.45),
 (243.5,2.60),(246,2.57),(249,2.52),(251,2.42),(253,2.35)]

MACD_SERIES = [S3_MACD, S4_MACD, S5_MACD, S6_MACD, S7_MACD, S8_MACD, S9_MACD, S10_MACD, S11_MACD, S12_MACD]
SIGNAL_SERIES = [S3_SIGNAL, S4_SIGNAL, S5_SIGNAL, S6_SIGNAL, S7_SIGNAL, S8_SIGNAL, S9_SIGNAL, S10_SIGNAL,
                 S11_SIGNAL, S12_SIGNAL]
LEGEND_NAMES = ["returns_MACD_line", "returns_signal_line"]

# ---------------- layout geometry (pixels) ----------------
W, H = 990, 1578
ROW_TOPS = [45, 365, 684, 1004, 1323]          # top of each grey panel
COL_SHIFT = [0, 512]
PANEL_X = (7, 489)                              # grey panel, left column
PLOT_X = (43, 476)                              # plot area, left column
PLOT_TOP_OFF, PLOT_BOT_OFF = 9.3, 201.8
PANEL_H = 261
LEG_BOX = (84, 435, 231.7, 248.3)               # legend box x0, x1, y0(off), y1(off)
LEG_SAMPLE = [(89, 135), (270, 315)]
LEG_TEXT_X = [142, 323]

BG = "#eaf2f3"
MACD_COLOR = "#2c5b8c"
SIGNAL_COLOR = "#a63a40"
AXIS_COLOR = "#3a3a3a"
SANS = "Liberation Sans, Arial, sans-serif"
MACD_DASH = "6px,3px"

fig = go.Figure()
shapes, annotations = [], []
layout = dict(width=W, height=H, margin=dict(l=0, r=0, t=0, b=0), showlegend=False,
              paper_bgcolor="white", plot_bgcolor="rgba(0,0,0,0)")


def px_x(v):
    return v / W


def px_y(v):
    return 1 - v / H


for i in range(10):
    r, c = divmod(i, 2)
    T = ROW_TOPS[r]
    dx = COL_SHIFT[c]
    n = i + 1
    xk = "xaxis" if n == 1 else f"xaxis{n}"
    yk = "yaxis" if n == 1 else f"yaxis{n}"
    xr = "x" if n == 1 else f"x{n}"
    yr = "y" if n == 1 else f"y{n}"

    # grey panel + white plot area
    shapes.append(dict(type="rect", xref="paper", yref="paper", layer="below",
                       x0=px_x(PANEL_X[0] + dx), x1=px_x(PANEL_X[1] + dx),
                       y0=px_y(T + PANEL_H), y1=px_y(T), fillcolor=BG, line=dict(width=0)))
    shapes.append(dict(type="rect", xref=f"{xr} domain", yref=f"{yr} domain", layer="below",
                       x0=0, x1=1, y0=0, y1=1, fillcolor="white", line=dict(width=0)))

    layout[xk] = dict(domain=[px_x(PLOT_X[0] + dx), px_x(PLOT_X[1] + dx)], anchor=yr,
                      range=[-4.3, 257.9], tickvals=X_TICKS, ticktext=[str(v) for v in X_TICKS],
                      ticks="outside", ticklen=4, ticklabelstandoff=-4,
                      tickcolor=AXIS_COLOR, showline=True, linecolor=AXIS_COLOR, linewidth=1,
                      showgrid=False, zeroline=False,
                      tickfont=dict(family=SANS, size=11.5, color="#111"),
                      title=dict(text="Day", font=dict(family=SANS, size=11.5, color="#111"), standoff=0))
    layout[yk] = dict(domain=[px_y(T + PLOT_BOT_OFF), px_y(T + PLOT_TOP_OFF)], anchor=xr,
                      range=Y_RANGES[i], tickvals=Y_TICKS[i], ticktext=[str(v) for v in Y_TICKS[i]],
                      tickangle=-90, ticks="outside", ticklen=5, ticklabelstandoff=-1,
                      tickcolor=AXIS_COLOR, showline=True, linecolor=AXIS_COLOR, linewidth=1,
                      showgrid=True, gridcolor="#e6eef1", gridwidth=1, zeroline=False,
                      tickfont=dict(family=SANS, size=11.5, color="#111"))

    mx, my = zip(*MACD_SERIES[i])
    sx, sy = zip(*SIGNAL_SERIES[i])
    fig.add_trace(go.Scatter(x=mx, y=my, mode="lines", name=LEGEND_NAMES[0], xaxis=xr, yaxis=yr,
                             line=dict(color=MACD_COLOR, width=1.2, dash=MACD_DASH), hoverinfo="skip"))
    fig.add_trace(go.Scatter(x=sx, y=sy, mode="lines", name=LEGEND_NAMES[1], xaxis=xr, yaxis=yr,
                             line=dict(color=SIGNAL_COLOR, width=1.2, shape="spline", smoothing=0.6),
                             hoverinfo="skip"))

    # panel title
    annotations.append(dict(text=TITLES[i], xref="paper", yref="paper",
                            x=px_x((PANEL_X[0] + PANEL_X[1]) / 2 + dx), y=px_y(T - 24),
                            xanchor="center", yanchor="middle", showarrow=False,
                            font=dict(family="Liberation Serif, Times New Roman, serif", size=32, color="#000")))

    # legend (Stata style box under the plot)
    ly = T + (LEG_BOX[2] + LEG_BOX[3]) / 2
    shapes.append(dict(type="rect", xref="paper", yref="paper", layer="above",
                       x0=px_x(LEG_BOX[0] + dx), x1=px_x(LEG_BOX[1] + dx),
                       y0=px_y(T + LEG_BOX[3]), y1=px_y(T + LEG_BOX[2]),
                       fillcolor="white", line=dict(color="#8a8a8a", width=1)))
    for k, (col, dash) in enumerate([(MACD_COLOR, MACD_DASH), (SIGNAL_COLOR, "solid")]):
        shapes.append(dict(type="line", xref="paper", yref="paper", layer="above",
                           x0=px_x(LEG_SAMPLE[k][0] + dx), x1=px_x(LEG_SAMPLE[k][1] + dx),
                           y0=px_y(ly), y1=px_y(ly), line=dict(color=col, width=1.3, dash=dash)))
        annotations.append(dict(text=LEGEND_NAMES[k], xref="paper", yref="paper",
                                x=px_x(LEG_TEXT_X[k] + dx), y=px_y(ly), xanchor="left", yanchor="middle",
                                showarrow=False, font=dict(family=SANS, size=11.5, color="#111")))

layout["shapes"] = shapes
layout["annotations"] = annotations
fig.update_layout(**layout)
fig.write_html("out.html", config={"displayModeBar": False},
               post_script="document.body.style.margin='0';document.body.style.overflow='hidden';")
